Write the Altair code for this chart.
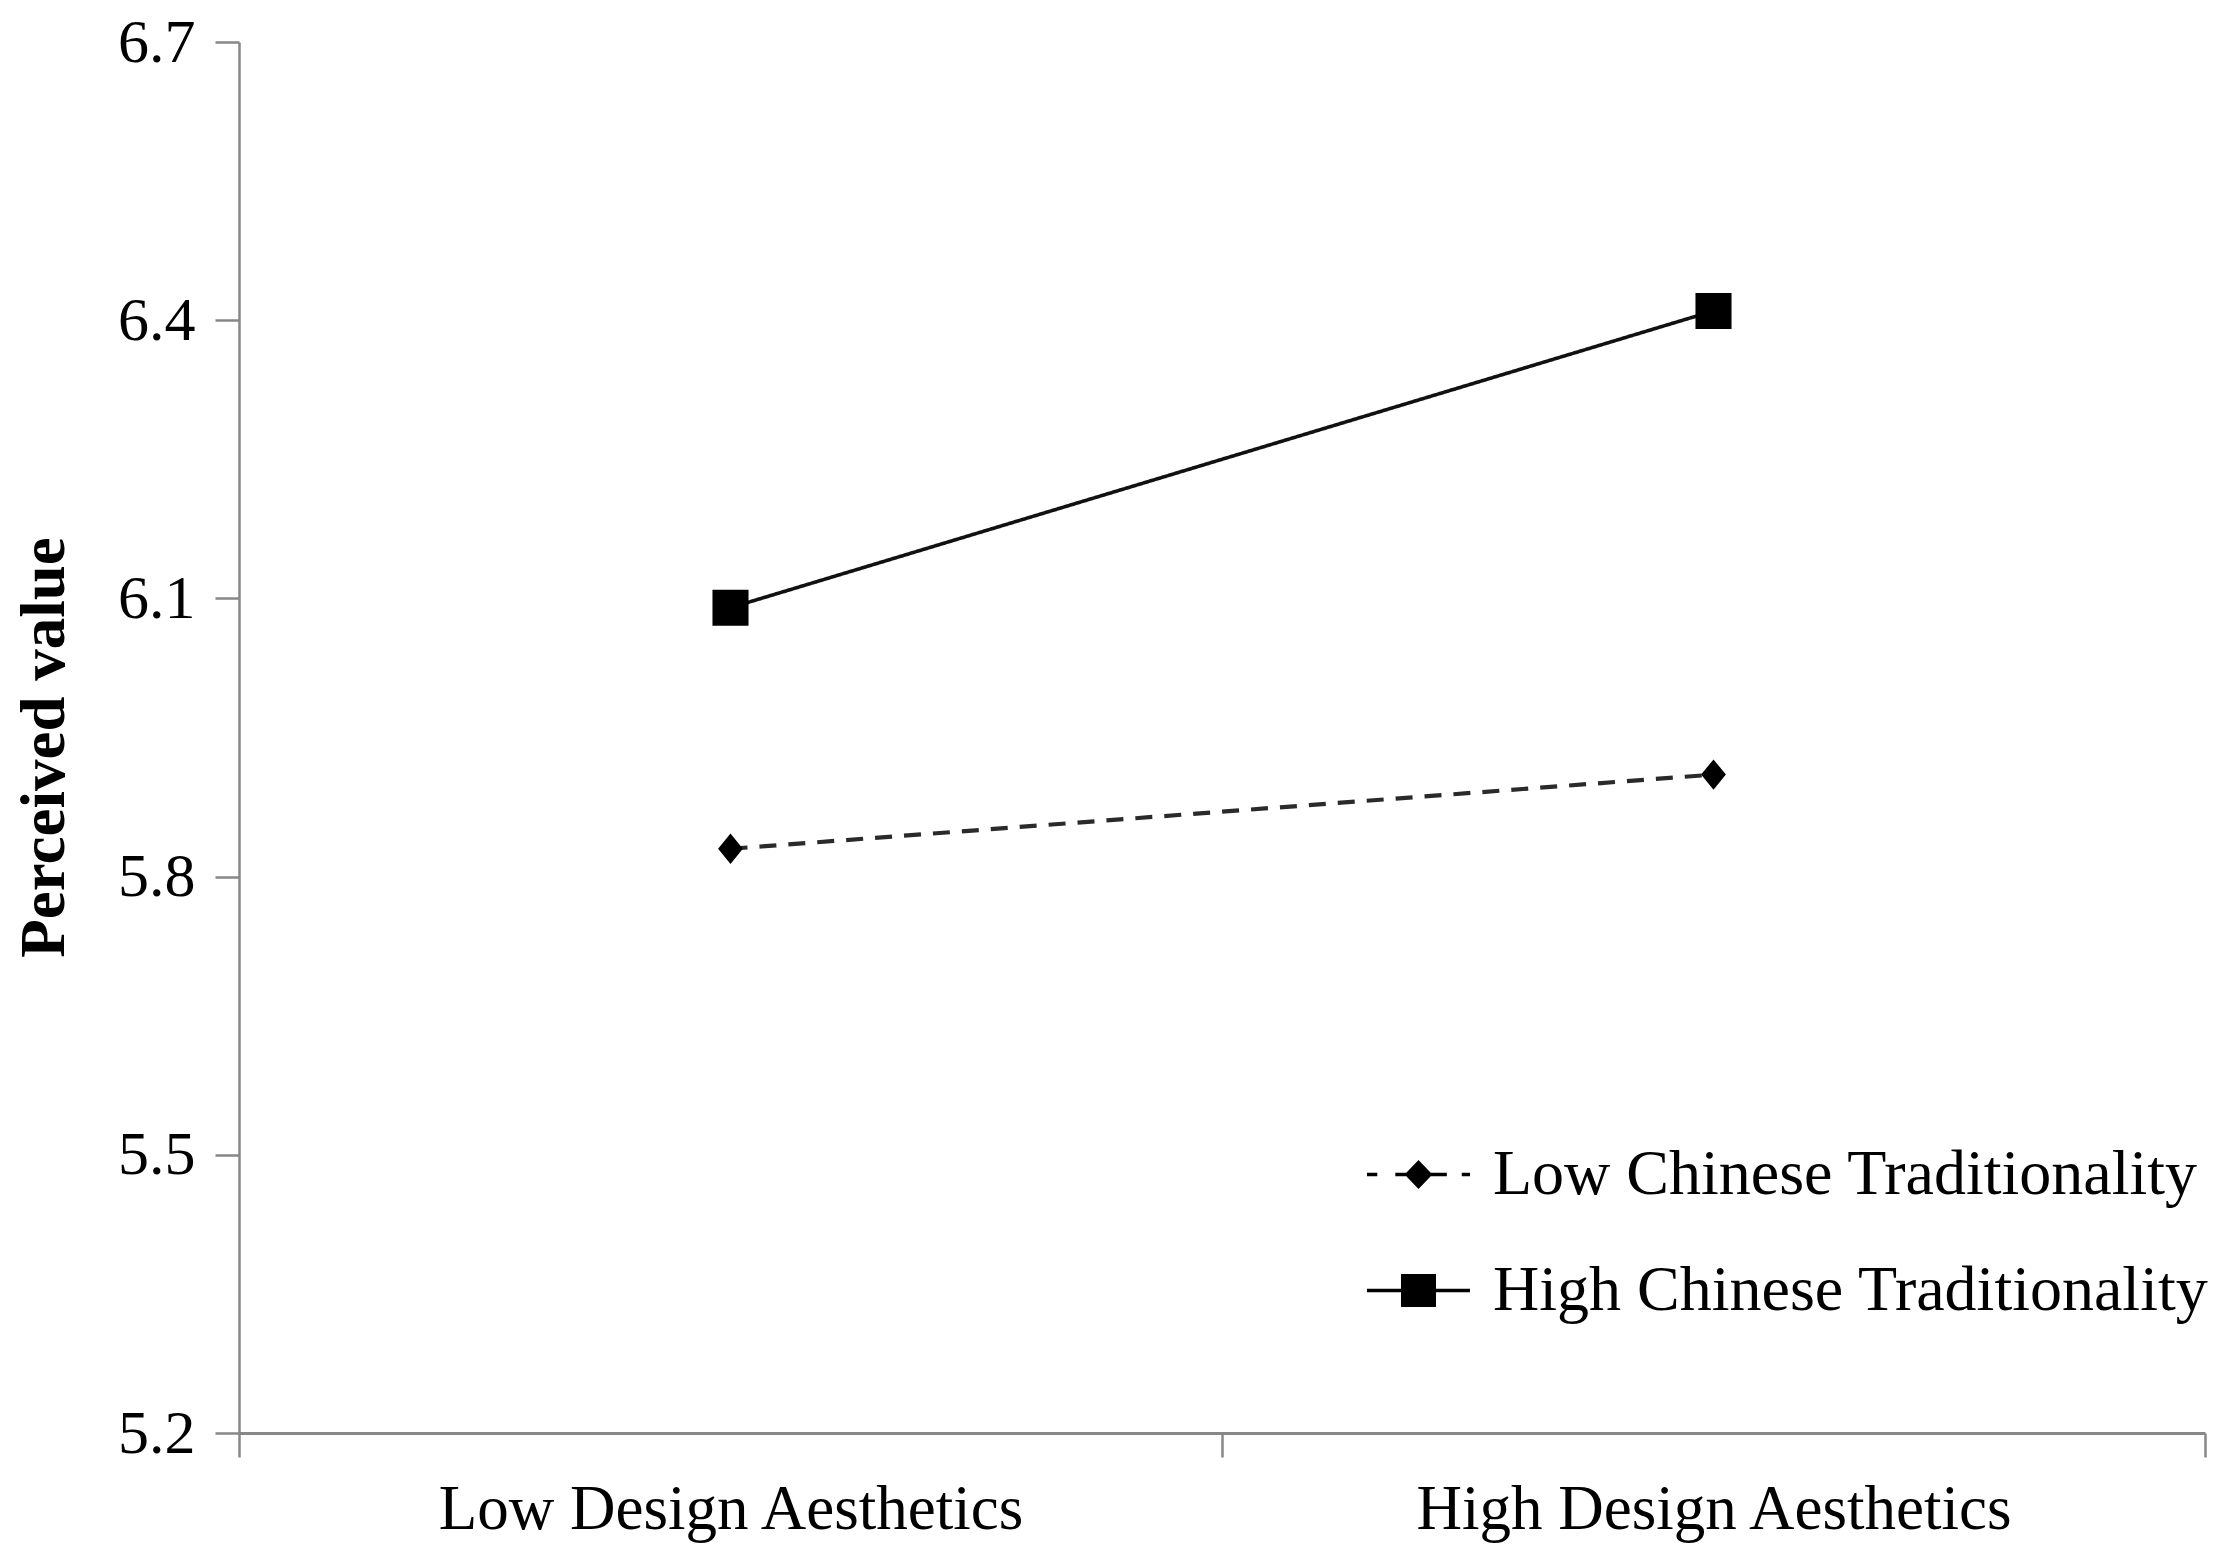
import altair as alt
import pandas as pd

categories = ["Low Design Aesthetics", "High Design Aesthetics"]
series = ["Low Chinese Traditionality", "High Chinese Traditionality"]
low_ct = [5.83, 5.91]
high_ct = [6.09, 6.41]
y_ticks = [5.2, 5.5, 5.8, 6.1, 6.4, 6.7]

rows = []
for c, v in zip(categories, low_ct):
    rows.append({"design": c, "group": series[0], "value": v})
for c, v in zip(categories, high_ct):
    rows.append({"design": c, "group": series[1], "value": v})
df = pd.DataFrame(rows)

FONT = "Liberation Serif"
AXIS_GRAY = "#878787"

# marker shapes in the plot
diamond = "M0,-1.1L0.9,0L0,1.1L-0.9,0Z"
point_shapes = [diamond, "square"]

# legend keys: line + marker
legend_low = ("M-1,-0.035H-0.8V0.035H-1Z "
              "M-0.45,-0.035H-0.2V0.035H-0.45Z "
              "M0,-0.28L0.27,0L0,0.28L-0.27,0Z "
              "M0.2,-0.035H0.55V0.035H0.2Z "
              "M0.84,-0.035H1V0.035H0.84Z")
legend_high = ("M-1,-0.035H1V0.035H-1Z "
               "M-0.34,-0.32H0.34V0.32H-0.34Z")

x_enc = alt.X(
    "design:N",
    sort=categories,
    scale=alt.Scale(type="band", domain=categories, paddingInner=0, paddingOuter=0),
    axis=alt.Axis(
        title=None, labelAngle=0, tickBand="extent", labelLimit=2000,
        labelFont=FONT, labelFontSize=63, labelColor="black", labelPadding=21,
        domainColor=AXIS_GRAY, domainWidth=3, tickColor=AXIS_GRAY, tickWidth=2.5,
        tickSize=24,
    ),
)
y_enc = alt.Y(
    "value:Q",
    scale=alt.Scale(domain=[5.2, 6.7], nice=False, zero=False),
    axis=alt.Axis(
        title="Perceived value", values=y_ticks, format=".1f", grid=False,
        labelFont=FONT, labelFontSize=62, labelColor="black", labelPadding=20,
        domainColor=AXIS_GRAY, domainWidth=2.5, tickColor=AXIS_GRAY, tickWidth=2.5,
        tickSize=24,
        titleFont=FONT, titleFontSize=63, titleFontWeight="bold", titleColor="black",
        titleX=-176, titleY=705, titleBaseline="alphabetic",
    ),
)

base = alt.Chart(df)

lines = base.mark_line(color="black").encode(
    x=x_enc, y=y_enc,
    detail="group:N",
    strokeDash=alt.StrokeDash(
        "group:N",
        scale=alt.Scale(domain=series, range=[[17, 12], [1, 0]]),
        legend=None,
    ),
    strokeWidth=alt.StrokeWidth(
        "group:N", scale=alt.Scale(domain=series, range=[4.2, 3.6]), legend=None
    ),
    color=alt.Color("group:N", scale=alt.Scale(domain=series, range=["#2a2a2a", "#111111"]), legend=None),
)

points = base.mark_point(filled=True, opacity=1).encode(
    x=x_enc, y=y_enc,
    color=alt.value("black"),
    shape=alt.Shape("group:N", scale=alt.Scale(domain=series, range=point_shapes), legend=None),
    size=alt.Size("group:N", scale=alt.Scale(domain=series, range=[760, 1300]), legend=None),
)

legend_layer = base.mark_point(filled=True, opacity=0).encode(
    x=x_enc, y=y_enc,
    color=alt.value("black"),
    shape=alt.Shape(
        "group:N",
        scale=alt.Scale(domain=series, range=[legend_low, legend_high]),
        legend=alt.Legend(
            title=None, orient="none", legendX=1128, legendY=1081, padding=0,
            rowPadding=32, labelOffset=23, labelFont=FONT, labelFontSize=64,
            labelColor="black", symbolSize=10609, symbolOpacity=1,
            symbolFillColor="black", symbolStrokeWidth=0, labelLimit=2000,
        ),
    ),
)

chart = (
    alt.layer(lines, points, legend_layer)
    .resolve_scale(shape="independent", size="independent", color="independent")
    .properties(
        width=1966, height=1391,
        autosize=alt.AutoSizeParams(type="none"),
        padding={"left": 231, "top": 34, "right": 6, "bottom": 120},
        background="white",
    )
    .configure_view(stroke=None)
)

chart.save("out.html", embed_options={"renderer": "svg", "actions": False})
